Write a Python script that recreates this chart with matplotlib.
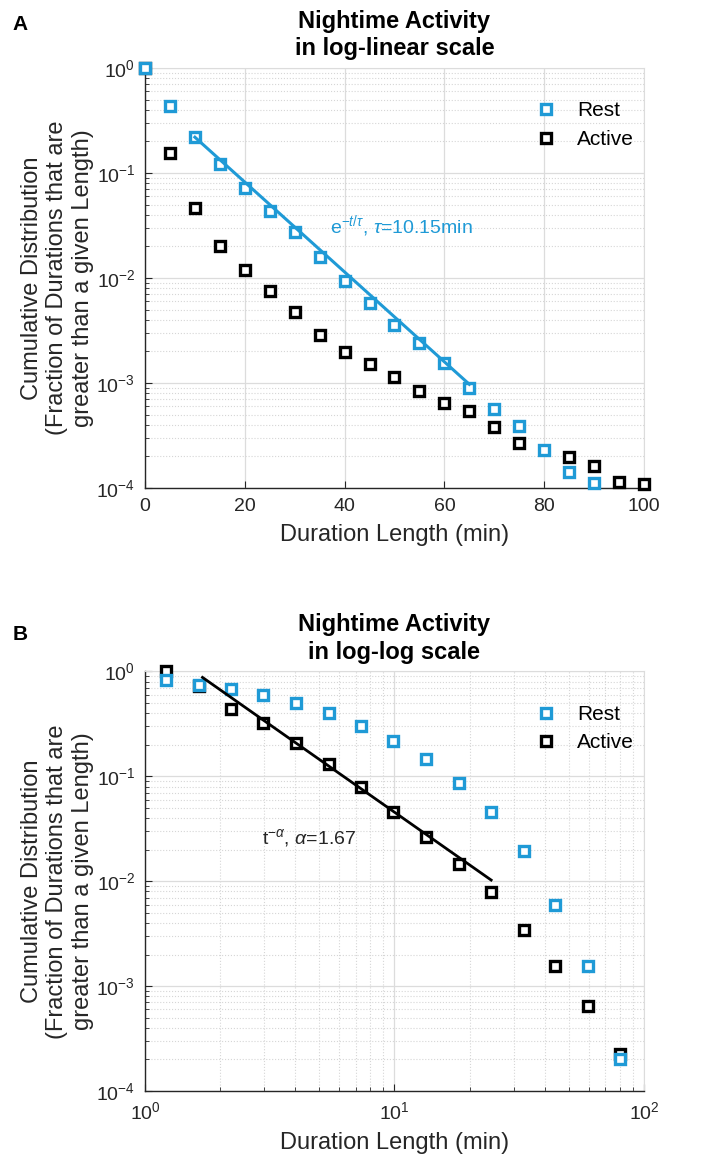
import numpy as np
import matplotlib
matplotlib.use("Agg")
import matplotlib.pyplot as plt
from matplotlib.ticker import LogLocator, NullFormatter

plt.rcParams['font.family'] = ['Liberation Sans', 'DejaVu Sans']
plt.rcParams['mathtext.fontset'] = 'custom'
plt.rcParams['mathtext.rm'] = 'Liberation Sans'
plt.rcParams['mathtext.it'] = 'Liberation Sans:italic'
plt.rcParams['mathtext.bf'] = 'Liberation Sans:bold'

# --- panel A : log-linear ---
lin_rest_x = [0, 5, 10, 15, 20, 25, 30, 35, 40, 45, 50, 55, 60, 65, 70, 75, 80, 85, 90]
lin_rest_y = [1.0, 0.43, 0.219, 0.122, 0.0714, 0.0438, 0.0272, 0.0160, 0.0094, 0.00574,
              0.00356, 0.00242, 0.00154, 0.00090, 0.00056, 0.00039, 0.00023, 0.000143, 0.000111]
lin_act_x = [0, 5, 10, 15, 20, 25, 30, 35, 40, 45, 50, 55, 60, 65, 70, 75, 85, 90, 95, 100]
lin_act_y = [1.0, 0.154, 0.0461, 0.0203, 0.0119, 0.00757, 0.00471, 0.00286, 0.00196, 0.00152,
             0.00115, 0.00084, 0.00065, 0.000545, 0.00038, 0.000266, 0.000199, 0.000163,
             0.000115, 0.000109]
tau = 10.15
exp_amp = 0.587
exp_range = [10, 65]

# --- panel B : log-log ---
log_x = [1.21, 1.64, 2.21, 2.98, 4.03, 5.44, 7.35, 9.9, 13.4, 18.1, 24.4, 32.9, 44.0, 59.4, 80.2]
log_rest_y = [0.83, 0.74, 0.68, 0.60, 0.50, 0.405, 0.305, 0.219, 0.146, 0.0873, 0.0462,
              0.0196, 0.00589, 0.00154, 0.000203]
log_act_y = [1.0, 0.73, 0.436, 0.326, 0.207, 0.131, 0.0789, 0.0462, 0.0267, 0.0146, 0.0079,
             0.00345, 0.00155, 0.00065, 0.000223]
alpha = 1.67
pow_amp = 2.13
pow_range = [1.7, 24.4]

blue = '#1f9ad6'
black = '#000000'
grid_major = '#dcdcdc'
grid_minor = '#d6d6d6'

fig = plt.figure(figsize=(7.08, 11.68), dpi=100)
axA = fig.add_axes([0.2048, 0.5822, 0.7048, 0.3596])
axB = fig.add_axes([0.2048, 0.0659, 0.7048, 0.3592])

mk = dict(marker='s', linestyle='none', markersize=7, markeredgewidth=2.4,
          markerfacecolor='white', clip_on=False)

ylab = 'Cumulative Distribution\n(Fraction of Durations that are\ngreater than a given Length)'


def style(ax, title):
    ax.set_yscale('log')
    ax.set_ylim(1e-4, 1)
    ax.yaxis.set_major_locator(LogLocator(base=10, numticks=10))
    ax.yaxis.set_minor_locator(LogLocator(base=10, subs=np.arange(2, 10), numticks=10))
    ax.yaxis.set_minor_formatter(NullFormatter())
    ax.grid(True, which='major', color=grid_major, linestyle='-', linewidth=0.9)
    ax.grid(True, which='minor', axis='y', color=grid_minor, linestyle=':', linewidth=0.8)
    ax.set_axisbelow(True)
    for s in ['top', 'right']:
        ax.spines[s].set_color(grid_major)
    for s in ['left', 'bottom']:
        ax.spines[s].set_color('#262626')
        ax.spines[s].set_linewidth(1.0)
    ax.tick_params(which='both', direction='in', labelsize=14, colors='#262626',
                   top=False, right=False)
    ax.tick_params(which='major', length=5, pad=7)
    ax.tick_params(which='minor', length=3)
    ax.set_xlabel('Duration Length (min)', fontsize=17, color='#262626', labelpad=7)
    ax.set_ylabel(ylab, fontsize=17, color='#262626', multialignment='center', labelpad=2)
    ax.set_title(title, fontsize=17, fontweight='bold', pad=9, linespacing=1.25)


# panel A
style(axA, 'Nightime Activity\nin log-linear scale')
axA.set_xlim(0, 100)
axA.set_xticks([0, 20, 40, 60, 80, 100])
t = np.linspace(exp_range[0], exp_range[1], 50)
axA.plot(t, exp_amp * np.exp(-t / tau), color=blue, linewidth=2.2, zorder=6)
hA_act, = axA.plot(lin_act_x, lin_act_y, markeredgecolor=black, zorder=4, **mk)
hA_rest, = axA.plot(lin_rest_x, lin_rest_y, markeredgecolor=blue, zorder=5, **mk)
axA.text(37, 0.031, r'e$^{-t/\tau}$, $\tau$=10.15min', color=blue, fontsize=14,
         va='center', ha='left')
axA.legend([hA_rest, hA_act], ['Rest', 'Active'], loc='upper left',
           bbox_to_anchor=(0.745, 0.965), frameon=False, fontsize=15,
           handlelength=1.0, handletextpad=1.0, labelspacing=0.45)

# panel B
style(axB, 'Nightime Activity\nin log-log scale')
axB.set_xscale('log')
axB.set_xlim(1, 100)
axB.xaxis.set_major_locator(LogLocator(base=10, numticks=10))
axB.xaxis.set_minor_locator(LogLocator(base=10, subs=np.arange(2, 10), numticks=10))
axB.xaxis.set_minor_formatter(NullFormatter())
axB.grid(True, which='minor', axis='x', color=grid_minor, linestyle=':', linewidth=0.8)
tt = np.linspace(pow_range[0], pow_range[1], 50)
axB.plot(tt, pow_amp * tt ** (-alpha), color=black, linewidth=2.0, zorder=6)
hB_act, = axB.plot(log_x, log_act_y, markeredgecolor=black, zorder=4, **mk)
hB_rest, = axB.plot(log_x, log_rest_y, markeredgecolor=blue, zorder=5, **mk)
axB.text(2.95, 0.026, r't$^{-\alpha}$, $\alpha$=1.67', color='#262626', fontsize=14,
         va='center', ha='left')
axB.legend([hB_rest, hB_act], ['Rest', 'Active'], loc='upper left',
           bbox_to_anchor=(0.745, 0.965), frameon=False, fontsize=15,
           handlelength=1.0, handletextpad=1.0, labelspacing=0.45)

fig.text(0.018, 1 - 25 / 1168, 'A', fontsize=15, fontweight='bold', va='center')
fig.text(0.018, 1 - 635 / 1168, 'B', fontsize=15, fontweight='bold', va='center')

fig.savefig('out.png', dpi=100)
